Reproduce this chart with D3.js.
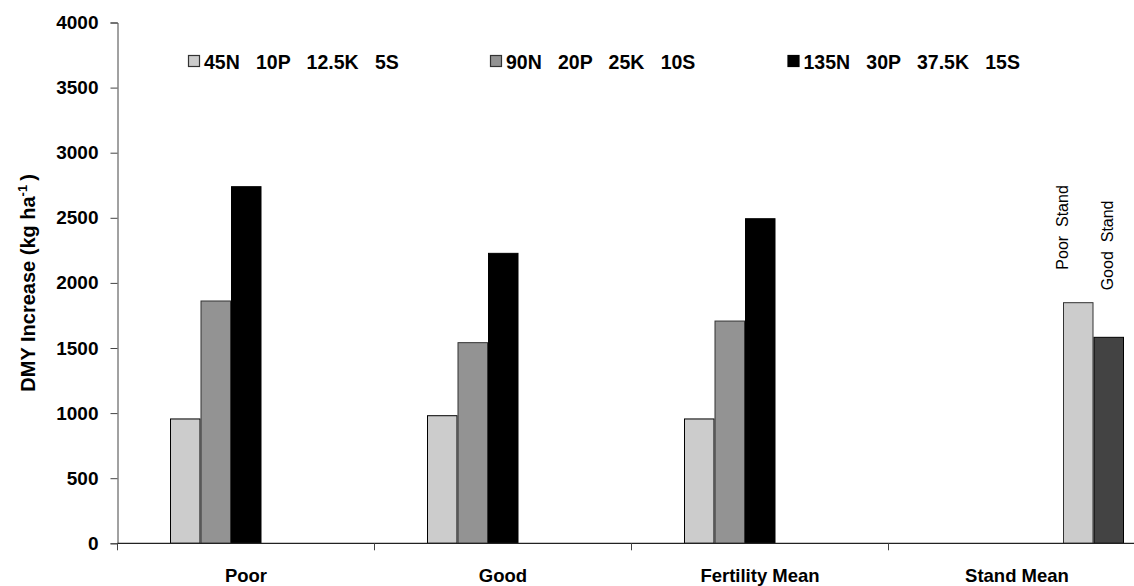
<!DOCTYPE html>
<html>
<head>
<meta charset="utf-8">
<script src="https://cdn.jsdelivr.net/npm/d3@7"></script>
<style>
  html, body { margin: 0; padding: 0; background: #fff; }
  svg { display: block; }
  text { font-family: "Liberation Sans", Arial, sans-serif; }
</style>
</head>
<body>
<svg id="chart" width="1134" height="586"></svg>
<script>
// ---- data ----
const categories = ["Poor", "Good", "Fertility Mean", "Stand Mean"];
const seriesNames = ["45N   10P   12.5K   5S", "90N   20P   25K   10S", "135N   30P   37.5K   15S"];
const lowRate  = [955, 980, 955, null];
const midRate  = [1861, 1541, 1707, null];
const highRate = [2739, 2227, 2493, null];
const standNames = ["Poor  Stand", "Good  Stand"];
const poorStand = [null, null, null, 1848];
const goodStand = [null, null, null, 1582];
const yTickValues = [0, 500, 1000, 1500, 2000, 2500, 3000, 3500, 4000];

// ---- layout ----
const svg = d3.select("#chart");
const plotLeft = 117.5, bandW = 257, yTop = 22.5, yBottom = 543.3;
const slotOffset = 52.5, slotW = 30.5;

const x = d3.scaleBand().domain(categories)
  .range([plotLeft, plotLeft + bandW * categories.length]).padding(0);
const slotKeys = ["low", "mid", "high", "spacer", "poorStand", "goodStand"];
const xs = d3.scaleBand().domain(slotKeys)
  .range([slotOffset, slotOffset + slotW * slotKeys.length]).padding(0);
const y = d3.scaleLinear().domain([0, 4000]).range([yBottom, yTop]);

const series = [
  { key: "low", values: lowRate, fill: "#cccccc", stroke: "#000" },
  { key: "mid", values: midRate, fill: "#939393", stroke: "#333" },
  { key: "high", values: highRate, fill: "#000000", stroke: "#000" },
  { key: "poorStand", values: poorStand, fill: "#cccccc", stroke: "#333" },
  { key: "goodStand", values: goodStand, fill: "#434343", stroke: "#000" }
];

// ---- bars ----
const barG = svg.append("g");
series.forEach(s => {
  const pts = categories.map((c, i) => ({ c, v: s.values[i] })).filter(d => d.v != null);
  barG.selectAll(null).data(pts).enter().append("rect")
    .attr("x", d => x(d.c) + xs(s.key) + 0.5)
    .attr("y", d => y(d.v))
    .attr("width", xs.bandwidth() - 1)
    .attr("height", d => y(0) - y(d.v))
    .attr("fill", s.fill)
    .attr("stroke", s.stroke)
    .attr("stroke-width", 1);
});

// ---- y axis ----
const yAxis = d3.axisLeft(y).tickValues(yTickValues).tickSize(7).tickPadding(12).tickFormat(d3.format("d"));
const yG = svg.append("g").attr("transform", `translate(${plotLeft},0)`).call(yAxis);
yG.select(".domain").attr("stroke", "#444");
yG.selectAll(".tick line").attr("stroke", "#444");
yG.selectAll(".tick text").attr("font-size", 19).attr("font-weight", "bold")
  .attr("font-family", "Liberation Sans, Arial, sans-serif").attr("fill", "#000");

// ---- x axis ----
const xG = svg.append("g").attr("transform", `translate(0,${yBottom})`);
xG.append("line").attr("x1", plotLeft).attr("x2", 1134).attr("y1", 0).attr("y2", 0)
  .attr("stroke", "#222").attr("stroke-width", 1.3);
xG.selectAll(".xtick").data(categories).enter().append("line")
  .attr("x1", d => x(d)).attr("x2", d => x(d)).attr("y1", 0).attr("y2", 7)
  .attr("stroke", "#444");
xG.selectAll(".xlab").data(categories).enter().append("text")
  .attr("x", d => x(d) + x.bandwidth() / 2)
  .attr("y", 38.5)
  .attr("text-anchor", "middle")
  .attr("font-size", 18.5).attr("font-weight", "bold")
  .text(d => d);

// ---- y title ----
const yt = svg.append("text")
  .attr("transform", `translate(35,${(yTop + yBottom) / 2}) rotate(-90)`)
  .attr("text-anchor", "middle")
  .attr("font-size", 20).attr("font-weight", "bold");
yt.append("tspan").text("DMY Increase (kg ha");
yt.append("tspan").attr("dy", -8).attr("font-size", 13).text("-1");
yt.append("tspan").attr("dy", 8).attr("dx", 4).text(")");

// ---- legend ----
const legendX = [188, 490, 787.5];
const legendFills = ["#cccccc", "#939393", "#000000"];
const legG = svg.append("g");
seriesNames.forEach((name, i) => {
  legG.append("rect").attr("x", legendX[i] + 0.5).attr("y", 55.5).attr("width", 11).attr("height", 11)
    .attr("fill", legendFills[i]).attr("stroke", i === 2 ? "#000" : "#333").attr("stroke-width", 1.2);
  legG.append("text").attr("x", legendX[i] + 16).attr("y", 68.5)
    .attr("font-size", 19.5).attr("font-weight", "bold")
    .style("white-space", "pre")
    .text(name);
});

// ---- stand annotations ----
const annot = [
  { key: "poorStand", v: poorStand[3], name: standNames[0], dx: 5, dy: 33 },
  { key: "goodStand", v: goodStand[3], name: standNames[1], dx: 19, dy: 47 }
];
annot.forEach(a => {
  const bx = x("Stand Mean") + xs(a.key);
  svg.append("text")
    .attr("transform", `translate(${bx + a.dx},${y(a.v) - a.dy}) rotate(-90)`)
    .attr("font-size", 16)
    .style("white-space", "pre")
    .text(a.name);
});
</script>
</body>
</html>
